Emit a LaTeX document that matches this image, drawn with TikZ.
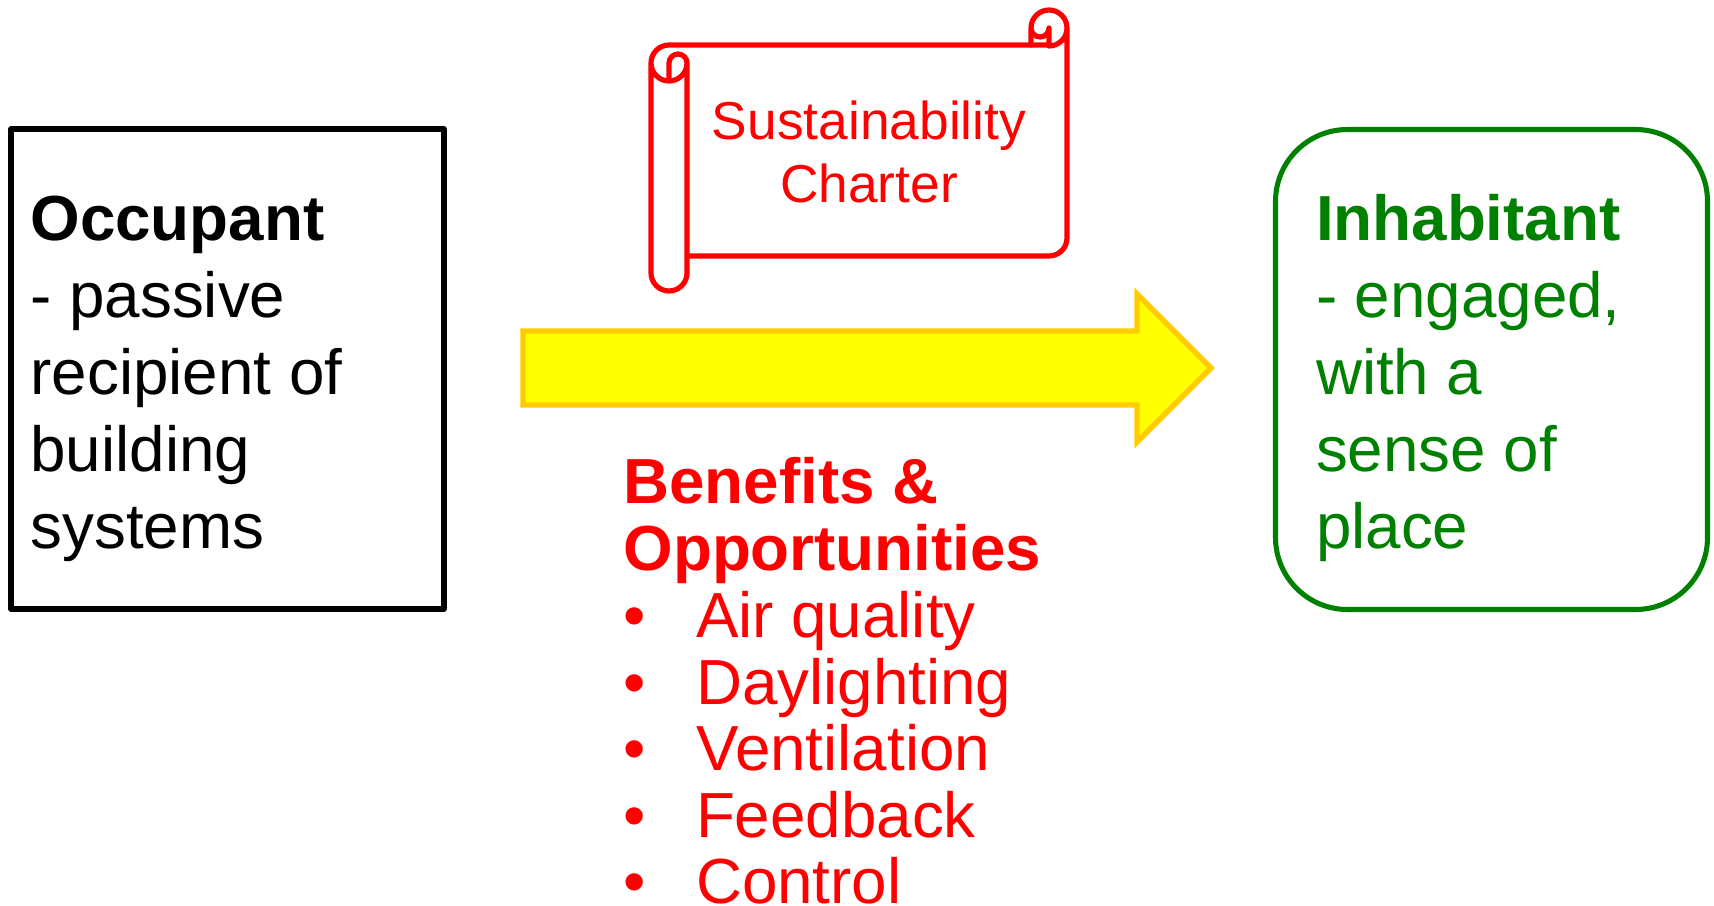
\documentclass[tikz,border=0pt]{standalone}
\usepackage{fontspec}
\setmainfont{Liberation Sans}
\definecolor{dgreen}{RGB}{0,128,0}
\definecolor{amber}{RGB}{255,204,0}
\definecolor{fillyellow}{RGB}{255,255,0}
\definecolor{pure}{RGB}{255,0,0}
\tikzset{
  txt/.style={anchor=base west,inner sep=0pt,outer sep=0pt},
  large/.style={txt,font=\fontsize{47.8pt}{58pt}\selectfont},
  largebold/.style={txt,font=\fontsize{47.8pt}{58pt}\selectfont\bfseries},
  mid/.style={txt,font=\fontsize{47.8pt}{50pt}\selectfont,text=pure},
  midbold/.style={mid,font=\fontsize{47.8pt}{50pt}\selectfont\bfseries},
  charter/.style={anchor=base,inner sep=0pt,font=\fontsize{40pt}{46pt}\selectfont,text=pure},
  scrollline/.style={draw=pure,line width=3.9pt,line join=round,line cap=round},
  boxshape/.style={inner sep=0pt,outer sep=0pt,anchor=north west}
}
\begin{document}
\begin{tikzpicture}[x=0.75pt,y=-0.75pt]
\useasboundingbox (0,0) rectangle (1714,906);
% Occupant box
\node[boxshape,draw=black,line width=4.3pt,line join=round,minimum width=324.5pt,minimum height=360pt] (occ) at (11,129) {};
\node[largebold] (o1) at (30.5,240) {Occupant};
\node[large] (o2) at (30.5,317) {- passive};
\node[large] (o3) at (30.5,394) {recipient of};
\node[large] (o4) at (30.5,471) {building};
\node[large] (o5) at (30.5,548) {systems};
% Inhabitant box
\node[boxshape,draw=dgreen,line width=3.8pt,rounded corners=54pt,minimum width=324pt,minimum height=360pt] (inh) at (1275.5,129.5) {};
\node[largebold,text=dgreen] (i1) at (1316,240) {Inhabitant};
\node[large,text=dgreen] (i2) at (1316,317) {- engaged,};
\node[large,text=dgreen] (i3) at (1316,394) {with a};
\node[large,text=dgreen] (i4) at (1316,471) {sense of};
\node[large,text=dgreen] (i5) at (1316,548) {place};
% Arrow
\draw[draw=amber,fill=fillyellow,line width=4.1pt,miter limit=10]
  (523,331)--(1137,331)--(1137,294)--(1211,368)--(1137,442)--(1137,405)--(523,405)--cycle;
% Scroll
\draw[scrollline]
  (669,45) -- (1049,45)
  (651,63) arc[start angle=180,end angle=270,radius=18]
  (651,63) -- (651,273) arc[start angle=180,end angle=0,radius=18] -- (687,63)
  arc[start angle=0,end angle=-180,radius=9] -- (669,80)
  (651,63) arc[start angle=180,end angle=0,radius=18];
\draw[scrollline]
  (687,256) -- (1049,256) arc[start angle=90,end angle=0,radius=18] -- (1067,28)
  arc[start angle=0,end angle=-180,radius=18] -- (1031,45)
  (1067,28) arc[start angle=0,end angle=90,radius=18]
  (1049,45) -- (1049,28) arc[start angle=0,end angle=180,radius=9];
\node[charter] (c1) at (869,139) {Sustainability};
\node[charter] (c2) at (869,202) {Charter};
% Benefits
\node[midbold] (b1) at (623.5,503) {Benefits \&};
\node[midbold] (b2) at (623.5,570) {Opportunities};
\foreach \n/\t/\y in {l1/Air quality/637,l2/Daylighting/704,l3/Ventilation/770,l4/Feedback/837,l5/Control/903}{
  \node[mid] (\n) at (696,\y) {\t};
  \node[mid] (\n b) at (623.5,\y) {•};
}
\end{tikzpicture}
\end{document}
